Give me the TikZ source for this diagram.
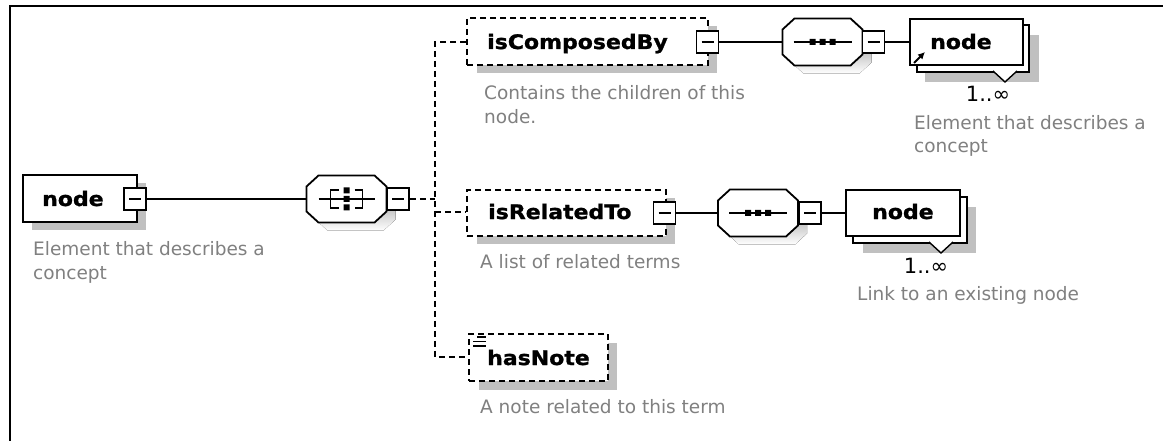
\documentclass[tikz,border=0pt]{standalone}
\usepackage{fontspec}
\usetikzlibrary{arrows.meta}
\newfontfamily\lblfont[FakeStretch=1.1,FakeBold=1.2]{DejaVu Sans}
\newfontfamily\capfont{DejaVu Sans}
\definecolor{capgray}{RGB}{128,128,128}
\definecolor{shade}{RGB}{192,192,192}
\tikzset{
  elem/.style={draw, fill=white, line width=1.8pt, inner sep=0pt},
  optelem/.style={elem, dash pattern=on 6pt off 4pt},
  minusbox/.style={draw, fill=white, line width=1.8pt, minimum width=22pt, minimum height=22pt, inner sep=0pt,
    path picture={\draw[line width=1.8pt] ([xshift=5pt]path picture bounding box.west) -- ([xshift=-5pt]path picture bounding box.east);}},
  lbl/.style={font=\lblfont\bfseries\fontsize{20}{24}\selectfont, anchor=base west, inner sep=0pt},
  captxt/.style={font=\capfont\fontsize{18.5}{22}\selectfont, text=capgray, anchor=base west, inner sep=0pt},
  cardtxt/.style={font=\capfont\fontsize{21}{24}\selectfont, anchor=base, inner sep=0pt},
  conn/.style={line width=1.8pt},
  optconn/.style={line width=1.8pt, dash pattern=on 6pt off 4pt},
  shadowfill/.style={fill=shade},
  hook/.style={draw=none, inner sep=0pt, minimum width=80pt, minimum height=47pt},
  octo/.pic={
    \fill[shade] (-19,-15.5) -- (37,-15.5) -- (49,-4.5) -- (49,20.5) -- (37,31.5) -- (-19,31.5) -- (-31,20.5) -- (-31,-4.5) -- cycle;
    \draw[fill=white, line width=1.8pt] (-28,-23.5) -- (28,-23.5) -- (40,-12.5) -- (40,12.5) -- (28,23.5) -- (-28,23.5) -- (-40,12.5) -- (-40,-12.5) -- cycle;
  },
  seqicon/.pic={
    \draw[line width=1.8pt] (-29,0) -- (29,0);
    \fill (-13,-3) rectangle (-7,3) (-3,-3) rectangle (3,3) (7,-3) rectangle (13,3);
  },
  choiceicon/.pic={
    \draw[line width=1.8pt] (-28,0) -- (28,0);
    \draw[line width=1.8pt] (-8,-9) -- (-16,-9) -- (-16,9) -- (-8,9);
    \draw[line width=1.8pt] (8,-9) -- (16,-9) -- (16,9) -- (8,9);
    \fill (-3,-11.5) rectangle (3,-5.5) (-3,-3) rectangle (3,3) (-3,5.5) rectangle (3,11.5);
  },
}
\begin{document}
\begin{tikzpicture}[x=1pt,y=-1pt]
\fill[white] (0,0) rectangle (1163,441);
\useasboundingbox (0,0) rectangle (1163,441);
\draw[line width=2pt] (10,441) -- (10,6) -- (1163,6);

% shadows
\fill[shadowfill] (32,183) rectangle (146,230);
\fill[shadowfill] (477,26) rectangle (717,73);
\fill[shadowfill] (477,198) rectangle (675,244);
\fill[shadowfill] (479,343) rectangle (617,390);
\fill[shadowfill] (925,35) rectangle (1039,82);
\fill[shadowfill] (863,207) rectangle (976,253);

% stacked back boxes
\node[elem, minimum width=112pt, minimum height=47pt] (n1back) at (973,48.5) {};
\node[elem, minimum width=114pt, minimum height=46pt] (n2back) at (910,220) {};
\fill[white] (993,71) -- (1017,71) -- (1005,82) -- cycle;
\draw[line width=1.4pt] (993,71) -- (1005,82) -- (1017,71);
\fill[white] (929,242) -- (953,242) -- (941,253) -- cycle;
\draw[line width=1.4pt] (929,242) -- (941,253) -- (953,242);

% element boxes
\node[elem, minimum width=114pt, minimum height=47pt] (root) at (80,198.5) {};
\node[optelem, minimum width=241pt, minimum height=47pt] (comp) at (587.5,41.5) {};
\node[optelem, minimum width=199pt, minimum height=46pt] (rel) at (566.5,213) {};
\node[optelem, minimum width=139pt, minimum height=47pt] (note) at (538.5,357.5) {};
\node[elem, minimum width=113pt, minimum height=46pt] (n1) at (966.5,42) {};
\node[elem, minimum width=114pt, minimum height=46pt] (n2) at (903,213) {};

% compositors
\pic at (346.5,199) {octo};
\pic at (346.5,199) {choiceicon};
\node[hook] (choice) at (346.5,199) {};
\pic at (822.5,42) {octo};
\pic at (822.5,42) {seqicon};
\node[hook] (seq1) at (822.5,42) {};
\pic at (758,213) {octo};
\pic at (758,213) {seqicon};
\node[hook] (seq2) at (758,213) {};

% minus boxes (positions)
\node[minusbox] (m0) at (135,199) {};
\node[minusbox] (mch) at (398,199) {};
\node[minusbox] (m1) at (707.5,42) {};
\node[minusbox] (m1s) at (873.5,42) {};
\node[minusbox] (m2) at (664.5,213) {};
\node[minusbox] (m2s) at (810,213) {};

% junctions
\coordinate (jc) at (435,199);
\coordinate (jt) at (435,42);
\coordinate (jm) at (435,212);
\coordinate (jb) at (435,357);

% connectors
\draw[conn] (m0.east) -- (m0.east -| choice.west);
\draw[optconn] (mch.east) -- (jc);
\draw[optconn] (jt -| comp.west) -- (jt) -- (jb) -- (jb -| note.west);
\draw[optconn] (jm) -- (jm -| rel.west);
\draw[conn] (m1.east) -- (m1.east -| seq1.west);
\draw[conn] (m1s.east) -- (m1s.east -| n1.west);
\draw[conn] (m2.east) -- (m2.east -| seq2.west);
\draw[conn] (m2s.east) -- (m2s.east -| n2.west);

% redraw minus boxes on top
\node[minusbox] at (m0) {};
\node[minusbox] at (mch) {};
\node[minusbox] at (m1) {};
\node[minusbox] at (m1s) {};
\node[minusbox] at (m2) {};
\node[minusbox] at (m2s) {};

% icons
\draw[line width=2pt, -{Latex[length=7pt,width=7pt]}] (914,63) -- (925,52);
\draw[line width=1.4pt] (477,337) -- (486,337) (473,341.5) -- (486,341.5) (473,346) -- (486,346);

% labels
\node[lbl] (lroot) at (42,206) {node};
\node[lbl] (lcomp) at (487,49) {isComposedBy};
\node[lbl] (lrel) at (488,219) {isRelatedTo};
\node[lbl] (lnote) at (487,365) {hasNote};
\node[lbl] (ln1) at (930,49) {node};
\node[lbl] (ln2) at (872,219) {node};

% cardinalities
\node[cardtxt] (c1) at (988,102) {1..∞};
\node[cardtxt] (c2) at (926,273) {1..∞};

% captions
\node[captxt] (d0a) at (33,255) {Element that describes a};
\node[captxt] (d0b) at (33,279) {concept};
\node[captxt] (d1a) at (484,100) {Contains the children of this};
\node[captxt] (d1b) at (484,124) {node.};
\node[captxt] (d2) at (480,268) {A list of related terms};
\node[captxt] (d3) at (480,413) {A note related to this term};
\node[captxt] (d4a) at (914,130) {Element that describes a};
\node[captxt] (d4b) at (914,153) {concept};
\node[captxt] (d5) at (857,300) {Link to an existing node};
\end{tikzpicture}
\end{document}
